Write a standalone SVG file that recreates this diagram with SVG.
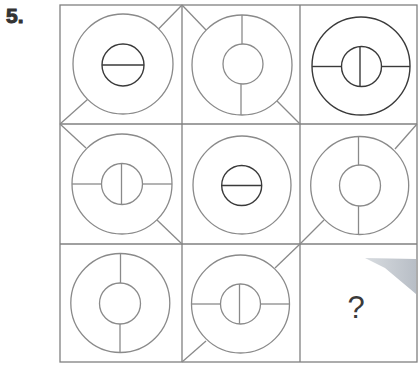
<svg xmlns="http://www.w3.org/2000/svg" width="419" height="366" viewBox="0 0 419 366">
<defs>
<style>
.g{fill:none;stroke:#8a8a8a;stroke-width:1.3}
.k{fill:none;stroke:#3a3a3a;stroke-width:1.4}
.b{fill:none;stroke:#808080;stroke-width:1.3}
.lbl{font-family:"Liberation Sans",Arial,sans-serif;font-weight:bold;font-size:21px;fill:#333;stroke:#333;stroke-width:1}
.q{font-family:"Liberation Sans",Arial,sans-serif;font-size:31px;fill:#3a3a3a}
</style>
<linearGradient id="wg" x1="0" y1="0" x2="1" y2="0">
<stop offset="0" stop-color="#d8dce0"/>
<stop offset="1" stop-color="#b8bec6"/>
</linearGradient>
</defs>
<rect width="419" height="366" fill="#fff"/>
<text class="lbl" x="6" y="23">5.</text>
<g id="grid">
<rect class="b" x="60" y="5" width="357" height="357"/>
<line class="b" x1="182" y1="5" x2="182" y2="362"/>
<line class="b" x1="300" y1="5" x2="300" y2="362"/>
<line class="b" x1="60" y1="124" x2="417" y2="124"/>
<line class="b" x1="60" y1="244" x2="417" y2="244"/>
</g>
<g id="connectors">
<line class="g" x1="182" y1="5" x2="158.5" y2="29"/>
<line class="g" x1="60" y1="124" x2="87.5" y2="99.5"/>
<line class="g" x1="182" y1="5" x2="206" y2="30"/>
<line class="g" x1="300" y1="124" x2="277" y2="101"/>
<line class="g" x1="60" y1="124" x2="86" y2="148"/>
<line class="g" x1="182" y1="244" x2="157" y2="220"/>
<line class="g" x1="417" y1="124" x2="395" y2="149"/>
<line class="g" x1="300" y1="244" x2="324" y2="220"/>
<line class="g" x1="300" y1="244" x2="275" y2="268"/>
<line class="g" x1="182" y1="362" x2="206" y2="341"/>
</g>
<g id="c1">
<circle class="g" cx="123" cy="64" r="50"/>
<circle class="k" cx="123" cy="65" r="21"/>
<line class="k" x1="102" y1="65" x2="144" y2="65" stroke-width="2"/>
</g>
<g id="c2">
<circle class="g" cx="242" cy="65" r="50"/>
<circle class="g" cx="243" cy="64" r="20"/>
<line class="g" x1="242" y1="15" x2="242" y2="44"/>
<line class="g" x1="241" y1="84" x2="241" y2="115"/>
</g>
<g id="c3">
<circle class="k" cx="361" cy="66" r="49"/>
<circle class="k" cx="361.5" cy="66.5" r="20"/>
<line class="k" x1="312" y1="66.5" x2="341.5" y2="66.5"/>
<line class="k" x1="381.5" y1="66.5" x2="410" y2="66.5"/>
<line class="k" x1="360" y1="46.5" x2="360" y2="86.5"/>
</g>
<g id="c4">
<circle class="g" cx="122" cy="184" r="50"/>
<circle class="g" cx="122" cy="184" r="20.5"/>
<line class="g" x1="72" y1="184" x2="101.5" y2="184"/>
<line class="g" x1="142.5" y1="184" x2="172" y2="184"/>
<line class="g" x1="121.5" y1="163.5" x2="121.5" y2="204.5"/>
</g>
<g id="c5">
<circle class="g" cx="242" cy="185" r="49"/>
<circle class="k" cx="241.7" cy="185.5" r="20"/>
<line class="k" x1="221.7" y1="185.5" x2="261.7" y2="185.5"/>
</g>
<g id="c6">
<circle class="g" cx="359.7" cy="185.5" r="49"/>
<circle class="g" cx="360" cy="185.5" r="20.5"/>
<line class="g" x1="358.5" y1="136.5" x2="358.5" y2="165"/>
<line class="g" x1="358.5" y1="206" x2="358.5" y2="234.5"/>
</g>
<g id="c7">
<circle class="g" cx="120.3" cy="303" r="49.5"/>
<circle class="g" cx="120" cy="303.5" r="20.5"/>
<line class="g" x1="120.5" y1="253.5" x2="120.5" y2="283"/>
<line class="g" x1="120" y1="324" x2="120" y2="352.5"/>
</g>
<g id="c8">
<circle class="g" cx="240.5" cy="304" r="49"/>
<circle class="g" cx="240.5" cy="304" r="20"/>
<line class="g" x1="191.5" y1="304" x2="220.5" y2="304"/>
<line class="g" x1="260.5" y1="304" x2="289.5" y2="304"/>
<line class="g" x1="239.5" y1="284" x2="239.5" y2="324"/>
</g>
<g id="c9">
<polygon points="365,258 416,259 416,294 385,268" fill="url(#wg)"/>
<text class="q" x="356" y="318" text-anchor="middle">?</text>
</g>
</svg>
